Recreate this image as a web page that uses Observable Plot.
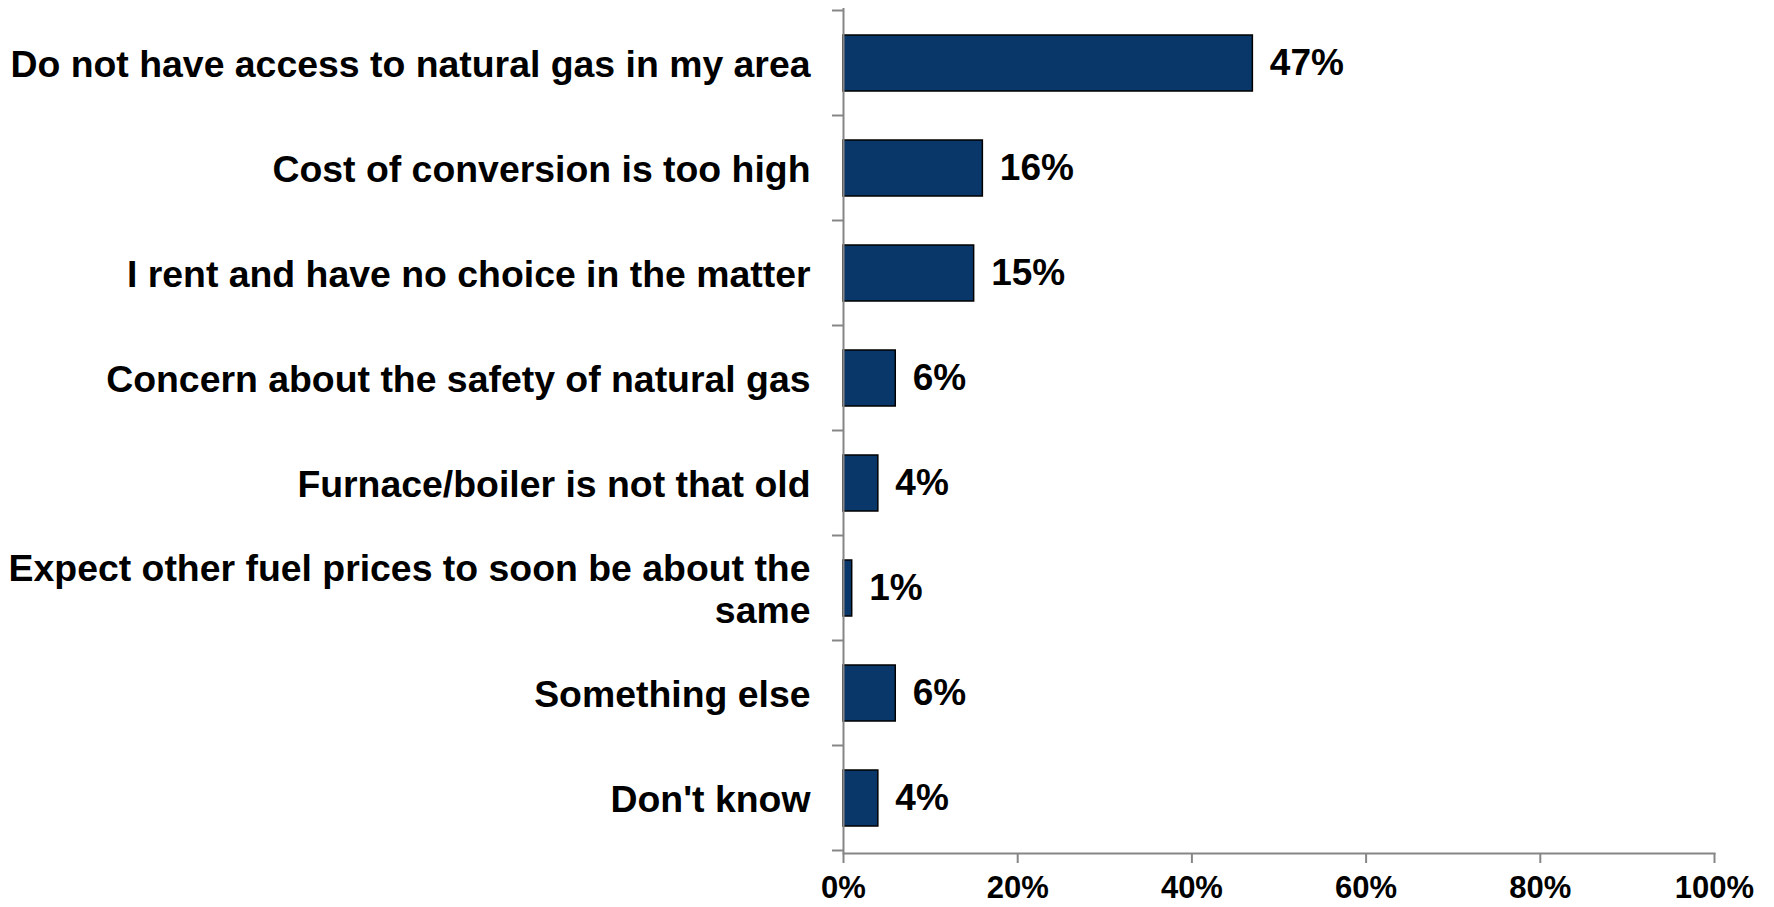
<!DOCTYPE html>
<html><head><meta charset="utf-8">
<script src="https://cdn.jsdelivr.net/npm/d3@7"></script>
<script src="https://cdn.jsdelivr.net/npm/@observablehq/plot@0.6"></script>
<style>html,body{margin:0;padding:0;background:#fff} svg{display:block}</style>
</head><body><div id="chart"></div>
<script>
const categories = [
  "Do not have access to natural gas in my area",
  "Cost of conversion is too high",
  "I rent and have no choice in the matter",
  "Concern about the safety of natural gas",
  "Furnace/boiler is not that old",
  "Expect other fuel prices to soon be about the\nsame",
  "Something else",
  "Don't know"
];
const values = [47, 16, 15, 6, 4, 1, 6, 4];
const xTicks = [0, 20, 40, 60, 80, 100];

const data = categories.map((c, i) => ({category: c, value: values[i]}));
const axisColor = "#868686";
const barColor = "#0A376A";

const plot = Plot.plot({
  width: 1774, height: 907,
  marginLeft: 843, marginRight: 60, marginTop: 8, marginBottom: 54,
  style: {fontFamily: "'Liberation Sans', Arial, sans-serif", fontWeight: "bold", color: "#000", background: "#fff"},
  x: {domain: [0, 100]},
  y: {domain: categories, paddingInner: 0.47, paddingOuter: 0.235},
  marks: [
    Plot.barX(data, {x: "value", y: "category", fill: barColor, stroke: "#000", strokeWidth: 1.5}),
    Plot.text(data, {x: "value", y: "category", text: d => d.value + "%", textAnchor: "start", dx: 17, fontSize: 37, fontWeight: "bold", fill: "#000"}),
    Plot.text(data, {y: "category", text: "category", frameAnchor: "left", textAnchor: "end", dx: -33, fontSize: 37.4, lineHeight: 1.13, fontWeight: "bold", fill: "#000"}),
    Plot.ruleX([0], {stroke: axisColor, strokeWidth: 2}),
    Plot.frame({anchor: "bottom", stroke: axisColor, strokeWidth: 2}),
    Plot.axisX({ticks: xTicks, tickFormat: d => d + "%", tickSize: 10, tickPadding: 12, fontSize: 31, stroke: axisColor, strokeWidth: 2, fill: "#000", label: null}),
    Plot.axisY({ticks: [], label: null})
  ]
});

// y-axis ticks at band boundaries, positioned from the plot's own scales
const ys = plot.scale("y");
const xs = plot.scale("x");
const step = ys.step ?? (ys.range[1] - ys.range[0]) / categories.length;
const bw = ys.bandwidth;
const gap = (step - bw) / 2;
const bounds = categories.map(c => ys.apply(c) - gap);
bounds.push(ys.apply(categories[categories.length - 1]) + bw + gap);
const x0 = xs.apply(0);
d3.select(plot).append("g")
  .attr("stroke", axisColor).attr("stroke-width", 2)
  .selectAll("line").data(bounds).join("line")
  .attr("x1", x0 - 11).attr("x2", x0)
  .attr("y1", d => d).attr("y2", d => d);

document.getElementById("chart").appendChild(plot);
</script>
</body></html>
